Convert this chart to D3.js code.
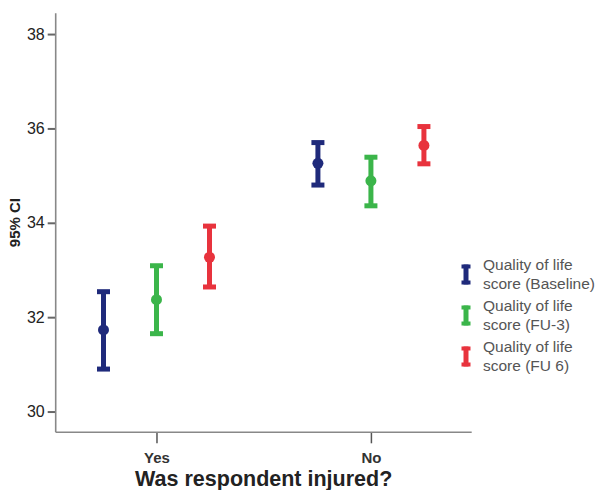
<!DOCTYPE html>
<html>
<head>
<meta charset="utf-8">
<script src="https://cdn.jsdelivr.net/npm/d3@7"></script>
<style>
  html, body { margin: 0; padding: 0; background: #fff; }
  svg { display: block; font-family: "Liberation Sans", Arial, sans-serif; }
</style>
</head>
<body>
<svg id="chart" width="600" height="490"></svg>
<script>
// Injury groups on the x axis
const categories = ["Yes", "No"];
// Measurement occasions
const seriesNames = [
  "Quality of life score (Baseline)",
  "Quality of life score (FU-3)",
  "Quality of life score (FU 6)"
];
// Means and 95% confidence limits, one entry per category
const baselineMean  = [31.73, 35.26];
const baselineLower = [30.90, 34.80];
const baselineUpper = [32.54, 35.70];
const fu3Mean  = [32.37, 34.89];
const fu3Lower = [31.65, 34.36];
const fu3Upper = [33.09, 35.39];
const fu6Mean  = [33.27, 35.64];
const fu6Lower = [32.64, 35.25];
const fu6Upper = [33.93, 36.04];
const yTicks = [30, 32, 34, 36, 38];
const colors = ["#1f2a7b", "#3bb54a", "#e8333d"];

const series = [
  { name: seriesNames[0], mean: baselineMean, lower: baselineLower, upper: baselineUpper },
  { name: seriesNames[1], mean: fu3Mean, lower: fu3Lower, upper: fu3Upper },
  { name: seriesNames[2], mean: fu6Mean, lower: fu6Lower, upper: fu6Upper }
];

const svg = d3.select("#chart");
const plotLeft = 55.7, plotRight = 471.7, plotTop = 13.3, plotBottom = 432.3;

const y = d3.scaleLinear().domain([29.56, 38.44]).range([plotBottom, plotTop]);
const x = d3.scalePoint().domain(categories).range([plotLeft, plotRight]).padding(0.47);
const xs = d3.scalePoint().domain(seriesNames).range([-53, 53]);
const color = d3.scaleOrdinal().domain(seriesNames).range(colors);

// Y axis
const yAxis = svg.append("g")
  .attr("transform", `translate(${plotLeft},0)`)
  .call(d3.axisLeft(y).tickValues(yTicks).tickSize(8).tickPadding(3).tickSizeOuter(0));
yAxis.select(".domain").remove();
yAxis.selectAll(".tick line").attr("stroke", "#666").attr("stroke-width", 2);
yAxis.selectAll(".tick text").attr("font-size", 16).attr("fill", "#222")
  .attr("font-family", "Liberation Sans, Arial, sans-serif");

// X axis
const xAxis = svg.append("g")
  .attr("transform", `translate(0,${plotBottom})`)
  .call(d3.axisBottom(x).tickSize(11).tickSizeOuter(0));
xAxis.select(".domain").remove();
xAxis.selectAll(".tick line").attr("stroke", "#555").attr("stroke-width", 1.5);
xAxis.selectAll(".tick text")
  .attr("y", 31).attr("dy", 0)
  .attr("font-size", 15).attr("font-weight", "bold").attr("fill", "#333")
  .attr("font-family", "Liberation Sans, Arial, sans-serif");

// Axis lines
svg.append("line").attr("x1", plotLeft).attr("x2", plotLeft).attr("y1", plotTop).attr("y2", plotBottom)
  .attr("stroke", "#888").attr("stroke-width", 1.6);
svg.append("line").attr("x1", plotLeft).attr("x2", plotRight).attr("y1", plotBottom).attr("y2", plotBottom)
  .attr("stroke", "#888").attr("stroke-width", 1.6);

// Axis titles
svg.append("text")
  .attr("transform", `translate(20,222.6) rotate(-90)`)
  .attr("text-anchor", "middle")
  .attr("font-size", 15).attr("font-weight", "bold").attr("fill", "#222")
  .text("95% CI");
svg.append("text")
  .attr("x", (plotLeft + plotRight) / 2).attr("y", 486)
  .attr("text-anchor", "middle")
  .attr("font-size", 21.5).attr("font-weight", "bold").attr("fill", "#222")
  .text("Was respondent injured?");

// Error bars
const capW = 13, barW = 5, capT = 5, dotR = 5.5;
series.forEach(s => {
  const g = svg.append("g").attr("fill", color(s.name)).attr("stroke", color(s.name));
  categories.forEach((c, i) => {
    const cx = x(c) + xs(s.name);
    g.append("line").attr("x1", cx).attr("x2", cx)
      .attr("y1", y(s.upper[i])).attr("y2", y(s.lower[i]))
      .attr("stroke-width", barW);
    [s.upper[i], s.lower[i]].forEach(v => {
      g.append("line").attr("x1", cx - capW / 2).attr("x2", cx + capW / 2)
        .attr("y1", y(v)).attr("y2", y(v))
        .attr("stroke-width", capT);
    });
    g.append("circle").attr("cx", cx).attr("cy", y(s.mean[i])).attr("r", dotR).attr("stroke", "none");
  });
});

// Legend
const legend = svg.append("g");
series.forEach((s, i) => {
  const base = 270 + i * 41;
  const cy = base + 4.5;
  const ic = legend.append("g").attr("stroke", color(s.name));
  ic.append("line").attr("x1", 466).attr("x2", 466).attr("y1", cy - 10).attr("y2", cy + 10).attr("stroke-width", 5);
  ic.append("line").attr("x1", 461.5).attr("x2", 470.5).attr("y1", cy - 8).attr("y2", cy - 8).attr("stroke-width", 4);
  ic.append("line").attr("x1", 461.5).attr("x2", 470.5).attr("y1", cy + 8).attr("y2", cy + 8).attr("stroke-width", 4);
  const cut = s.name.indexOf("score");
  const t = legend.append("text").attr("font-size", 15.5).attr("fill", "#555");
  t.append("tspan").attr("x", 483).attr("y", base).text(s.name.slice(0, cut).trim());
  t.append("tspan").attr("x", 483).attr("y", base + 18.5).text(s.name.slice(cut));
});
</script>
</body>
</html>
